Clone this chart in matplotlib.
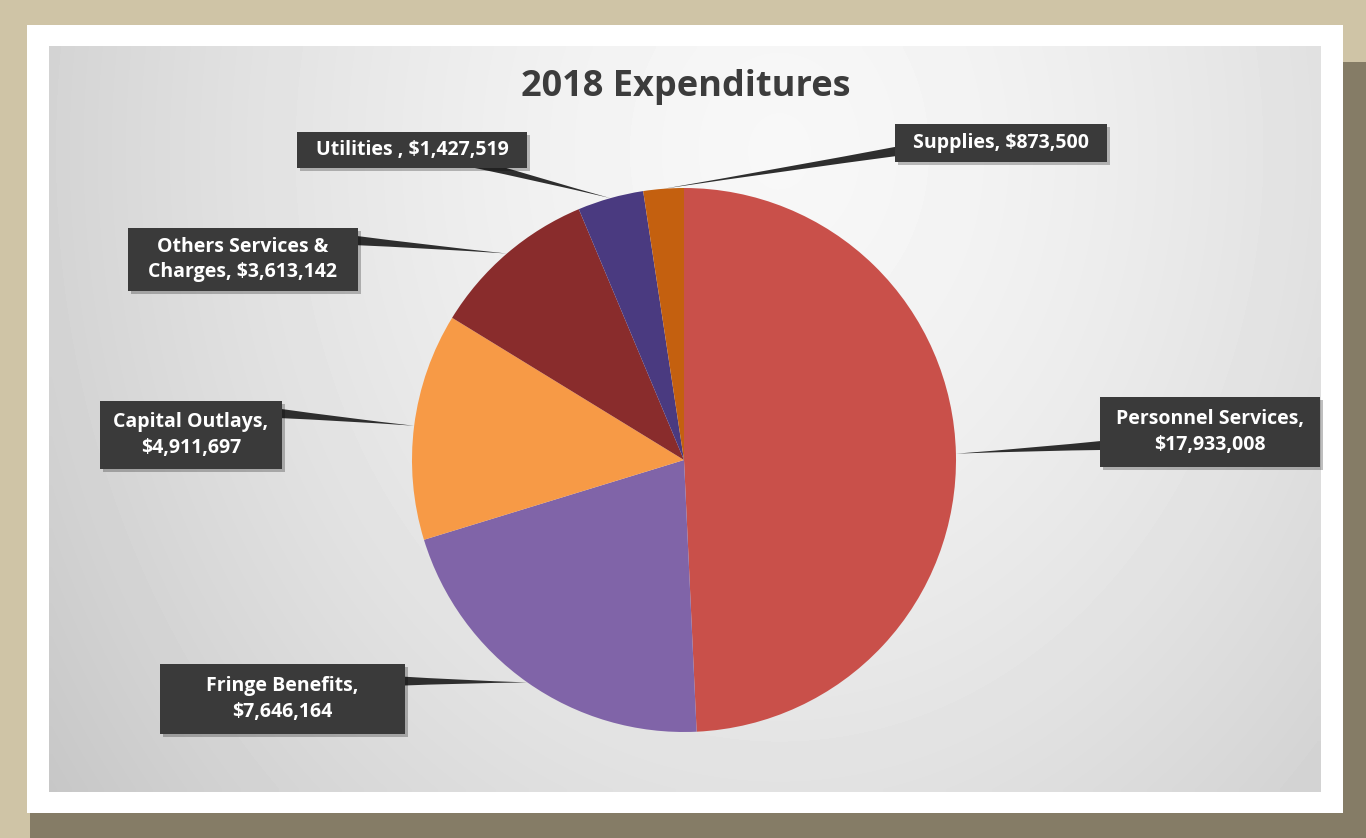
import numpy as np
import matplotlib.pyplot as plt
from matplotlib.patches import Rectangle, FancyArrowPatch

# data
categories = ["Personnel Services", "Fringe Benefits", "Capital Outlays",
              "Others Services &\nCharges", "Utilities", "Supplies"]
amounts = [17933008, 7646164, 4911697, 3613142, 1427519, 873500]
separators = [",\n", ",\n", ",\n", ", ", " , ", ", "]
colors = ["#c9504a", "#8064a8", "#f79a46", "#892c2c", "#4a3a80", "#c4600f"]
title = "2018 Expenditures"

# label boxes in pixel coords (x0, y0, x1, y1), y measured from the top
boxes = [(1100, 397, 1320, 467), (160, 664, 405, 734), (100, 401, 282, 469),
         (128, 228, 358, 291), (297, 132, 527, 168), (895, 124, 1107, 162)]
# where the leader leaves the box
tails = [(1110, 445), (395, 681), (275, 413), (350, 240), (470, 162), (905, 150)]

W, H = 1366, 838
def fy(y):
    return H - y

fig = plt.figure(figsize=(W / 100, H / 100), dpi=100)
fig.patch.set_facecolor("#cfc4a6")
ax = fig.add_axes([0, 0, 1, 1])

# frame shadow on right / bottom
ax.add_patch(Rectangle((1343, 0), W - 1343, fy(62), color="#857c66", lw=0, zorder=0))
ax.add_patch(Rectangle((30, 0), W - 30, fy(813), color="#857c66", lw=0, zorder=0))
# white mat
ax.add_patch(Rectangle((27, fy(813)), 1343 - 27, 813 - 25, color="white", lw=0, zorder=1))

# grey gradient panel
gx, gy = np.meshgrid(np.linspace(49, 1321, 200), np.linspace(47, 792, 120))
r = np.sqrt(((gx - 780) / 900) ** 2 + ((gy - 150) / 1100) ** 2)
shade = 0.97 - 0.19 * np.clip(r, 0, 1.3) ** 1.5
ax.imshow(shade, cmap="gray", vmin=0, vmax=1, extent=(49, 1321, fy(792), fy(47)),
          origin="upper", interpolation="bilinear", aspect="auto", zorder=2)

wedges, _ = ax.pie(amounts, colors=colors, startangle=90, counterclock=False,
                   center=(684, fy(460)), radius=272, frame=True,
                   wedgeprops=dict(linewidth=0))
for w in wedges:
    w.set_zorder(4)
ax.set_xlim(0, W)
ax.set_ylim(0, H)
ax.set_aspect("auto")
ax.axis("off")

ax.text(686, fy(87), title, ha="center", va="center", fontsize=26,
        fontweight="bold", color="#3c3c3c", family="Open Sans", zorder=6)

for w, cat, sep, amt, box, tail in zip(wedges, categories, separators, amounts, boxes, tails):
    mid = np.deg2rad((w.theta1 + w.theta2) / 2)
    cx, cy = w.center
    head = (cx + w.r * np.cos(mid), cy + w.r * np.sin(mid))
    arrow = FancyArrowPatch((tail[0], fy(tail[1])), head,
                            arrowstyle="wedge,tail_width=0.7,shrink_factor=0.4",
                            mutation_scale=10, color="#2e2e2e", lw=0,
                            shrinkA=0, shrinkB=0, zorder=5)
    ax.add_patch(arrow)
    x0, y0, x1, y1 = box
    ax.add_patch(Rectangle((x0 + 3, fy(y1) - 3), x1 - x0, y1 - y0,
                           color="black", alpha=0.25, lw=0, zorder=6))
    ax.add_patch(Rectangle((x0, fy(y1)), x1 - x0, y1 - y0,
                           color="#3a3a3a", lw=0, zorder=7))
    ax.text((x0 + x1) / 2, fy((y0 + y1) / 2), f"{cat}{sep}${amt:,}",
            ha="center", va="center", multialignment="center",
            fontsize=14, fontweight="bold", color="white", family="Open Sans",
            linespacing=1.35, zorder=8)

fig.savefig("out.png", dpi=100)
